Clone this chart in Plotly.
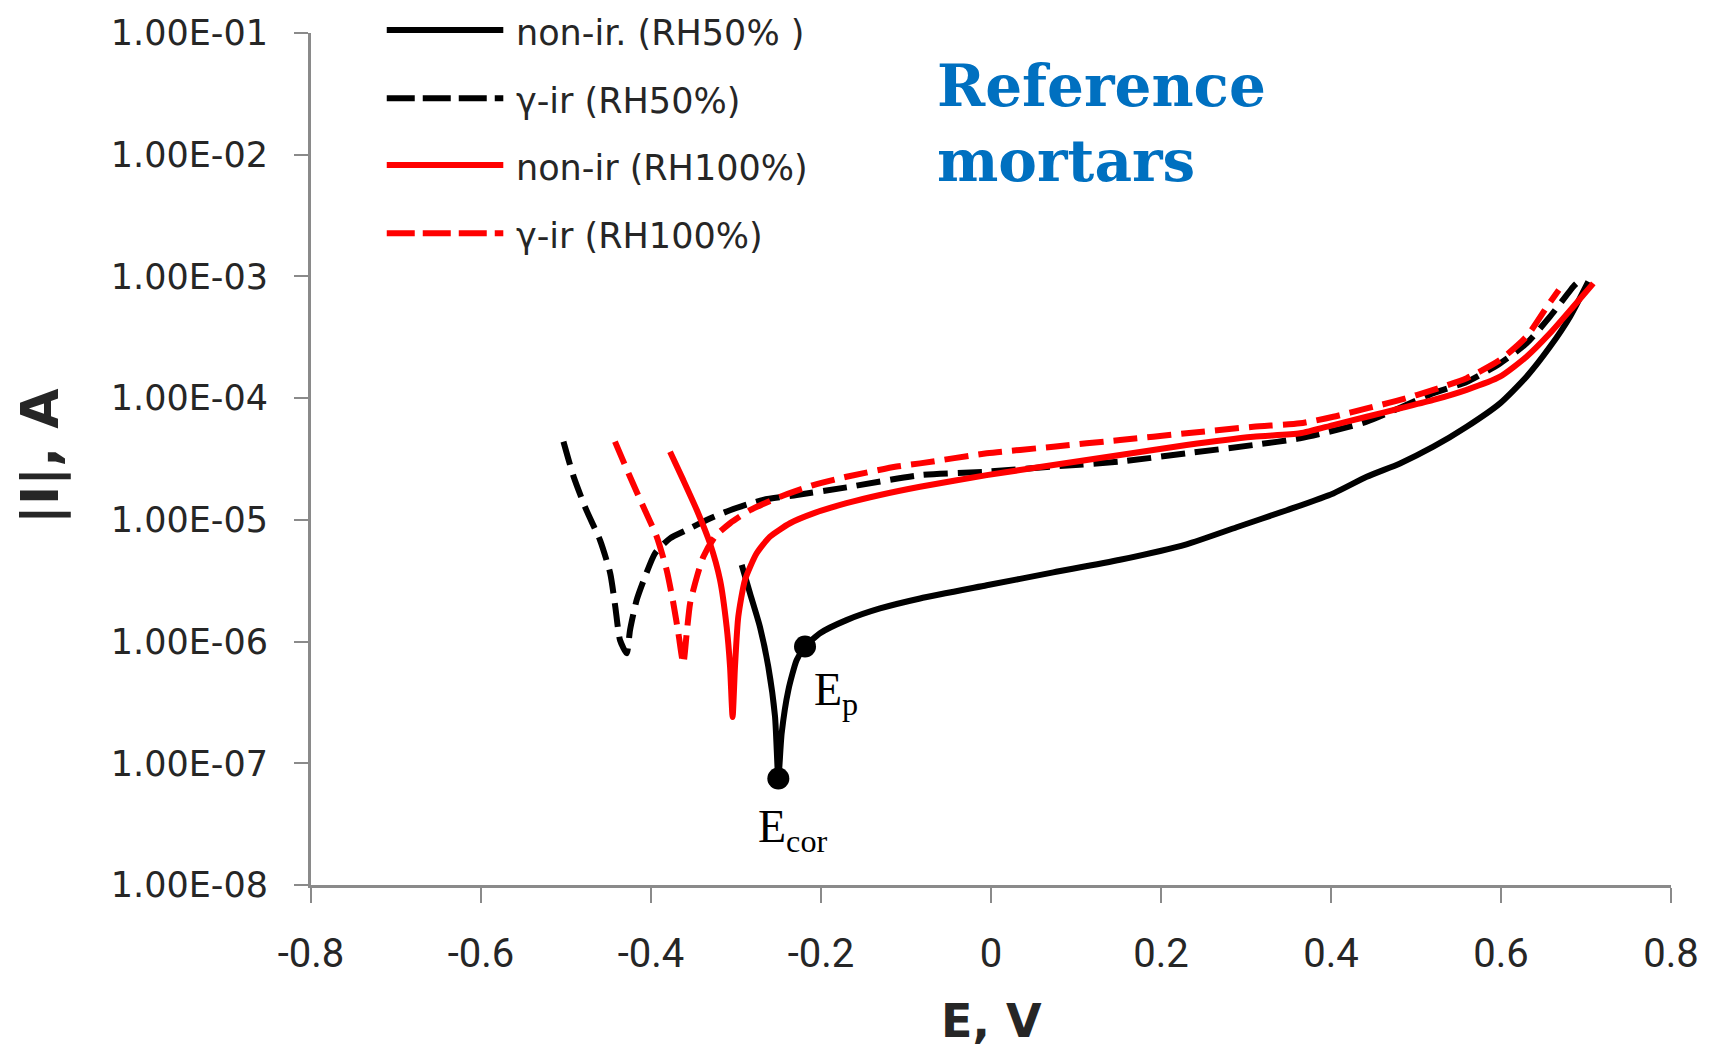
import plotly.graph_objects as go

# ---- data (E in V, |I| in A) ----
E_nonir_50 = [-0.2933, -0.2835, -0.2718, -0.262, -0.2541, -0.2502, -0.2463, -0.2384, -0.2286,
              -0.2188, -0.2012, -0.170, -0.1306, -0.0835, -0.005, 0.0733, 0.1518, 0.230, 0.289,
              0.348, 0.4027, 0.442, 0.4812, 0.5204, 0.5596, 0.5988, 0.630, 0.6576, 0.6812, 0.7027]
I_nonir_50 = [4.26e-6, 2.49e-6, 1.32e-6, 6.21e-7, 2.42e-7, 7.5e-8, 1.76e-7, 4.0e-7, 7.05e-7,
              9.08e-7, 1.17e-6, 1.50e-6, 1.87e-6, 2.26e-6, 2.9e-6, 3.7e-6, 4.7e-6, 6.3e-6, 8.7e-6,
              1.20e-5, 1.65e-5, 2.26e-5, 2.91e-5, 3.99e-5, 5.82e-5, 9.06e-5, 1.50e-4, 2.64e-4, 4.67e-4, 9.06e-4]

E_gir_50 = [-0.503, -0.491, -0.476, -0.460, -0.448, -0.442, -0.4365, -0.4286, -0.4247, -0.4169,
            -0.407, -0.3953, -0.3776, -0.358, -0.3345, -0.307, -0.268, -0.2286, -0.170, -0.0835,
            -0.005, 0.0733, 0.1518, 0.230, 0.3086, 0.3635, 0.442, 0.5204, 0.5596, 0.5988, 0.630,
            0.6576, 0.685, 0.690]
I_gir_50 = [4.39e-5, 2.26e-5, 1.20e-5, 6.82e-6, 3.64e-6, 1.93e-6, 1.03e-6, 8.0e-7, 1.24e-6, 2.19e-6,
            3.41e-6, 5.31e-6, 7.05e-6, 8.26e-6, 9.98e-6, 1.20e-5, 1.46e-5, 1.60e-5, 1.85e-5, 2.33e-5,
            2.49e-5, 2.74e-5, 3.01e-5, 3.52e-5, 4.12e-5, 4.68e-5, 6.40e-5, 1.10e-4, 1.36e-4, 1.93e-4,
            2.82e-4, 4.67e-4, 8.24e-4, 8.9e-4]

E_nonir_100 = [-0.3776, -0.362, -0.346, -0.3306, -0.3188, -0.311, -0.307, -0.304, -0.3012, -0.2973,
               -0.2894, -0.2757, -0.26, -0.2365, -0.209, -0.170, -0.1306, -0.0835, -0.005, 0.0733,
               0.1518, 0.230, 0.3086, 0.3635, 0.4027, 0.442, 0.4812, 0.5204, 0.5596, 0.5988, 0.630,
               0.6576, 0.685, 0.7086]
I_nonir_100 = [3.63e-5, 2.12e-5, 1.20e-5, 6.41e-6, 3.21e-6, 1.32e-6, 6.21e-7, 2.4e-7, 6.21e-7, 1.60e-6,
               3.21e-6, 5.31e-6, 7.28e-6, 9.38e-6, 1.13e-5, 1.37e-5, 1.60e-5, 1.87e-5, 2.33e-5, 2.82e-5,
               3.41e-5, 4.12e-5, 4.82e-5, 5.14e-5, 6.01e-5, 7.03e-5, 8.24e-5, 9.66e-5, 1.17e-4, 1.50e-4,
               2.19e-4, 3.41e-4, 5.64e-4, 8.77e-4]

E_gir_100 = [-0.4424, -0.4247, -0.409, -0.3933, -0.3816, -0.3737, -0.3678, -0.362, -0.358, -0.354,
             -0.346, -0.3384, -0.3247, -0.307, -0.2835, -0.248, -0.209, -0.170, -0.111, -0.0835,
             -0.005, 0.0733, 0.1518, 0.230, 0.3086, 0.3635, 0.4027, 0.442, 0.4812, 0.5204, 0.5596,
             0.5988, 0.630, 0.6541, 0.668]
I_gir_100 = [4.39e-5, 2.26e-5, 1.28e-5, 7.28e-6, 3.87e-6, 2.06e-6, 1.17e-6, 6.6e-7, 1.17e-6, 2.06e-6,
             3.41e-6, 4.98e-6, 7.28e-6, 9.38e-6, 1.20e-5, 1.55e-5, 1.93e-5, 2.26e-5, 2.74e-5, 2.91e-5,
             3.52e-5, 3.99e-5, 4.53e-5, 5.14e-5, 5.82e-5, 6.21e-5, 7.03e-5, 8.24e-5, 9.66e-5, 1.17e-4,
             1.46e-4, 2.06e-4, 3.20e-4, 5.64e-4, 7.73e-4]

# marked points (E_cor and E_p on the non-ir. RH50% curve)
point_E = [-0.2502, -0.2188]
point_I = [7.5e-8, 9.1e-7]
point_labels = ["E<sub>cor</sub>", "E<sub>p</sub>"]

series_names = ["non-ir. (RH50% )", "γ-ir (RH50%)", "non-ir (RH100%)", "γ-ir (RH100%)"]
series_colors = ["#000000", "#000000", "#FF0000", "#FF0000"]
series_dash = ["solid", "24px,10px", "solid", "24px,10px"]
legend_dash = ["solid", "28px,8px", "solid", "28px,8px"]

x_ticks = [-0.8, -0.6, -0.4, -0.2, 0, 0.2, 0.4, 0.6, 0.8]
y_tickvals = [1e-1, 1e-2, 1e-3, 1e-4, 1e-5, 1e-6, 1e-7, 1e-8]
y_ticktext = ["1.00E-01", "1.00E-02", "1.00E-03", "1.00E-04",
              "1.00E-05", "1.00E-06", "1.00E-07", "1.00E-08"]

xs = [E_nonir_50, E_gir_50, E_nonir_100, E_gir_100]
ys = [I_nonir_50, I_gir_50, I_nonir_100, I_gir_100]

fig = go.Figure()
for x, y, name, c, d in zip(xs, ys, series_names, series_colors, series_dash):
    fig.add_trace(go.Scatter(x=x, y=y, mode="lines", name=name,
                             line=dict(color=c, width=6, dash=d, shape="spline", smoothing=0.6),
                             showlegend=False))

fig.add_trace(go.Scatter(x=point_E, y=point_I, mode="markers",
                         marker=dict(color="black", size=22), showlegend=False))

# ---- manual legend (long line samples like the original) ----
legend_rows_y = [1.0035, 0.9234, 0.8451, 0.7649]
shapes = []
annotations = []
for ry, name, c, d in zip(legend_rows_y, series_names, series_colors, legend_dash):
    shapes.append(dict(type="line", xref="paper", yref="paper", x0=0.0557, x1=0.1414,
                       y0=ry, y1=ry, line=dict(color=c, width=6, dash=d)))
    annotations.append(dict(xref="paper", yref="paper", x=0.149, y=ry - 0.003,
                            xanchor="left", yanchor="middle", showarrow=False, text=name,
                            font=dict(family="DejaVu Sans", size=35, color="#262626")))

# title text block
annotations.append(dict(xref="paper", yref="paper", x=0.4585, y=0.8932, xanchor="left",
                        yanchor="middle", showarrow=False, align="left",
                        text="<b>Reference<br>mortars</b>",
                        font=dict(family="DejaVu Serif", size=58, color="#0070C0")))

# point labels
annotations.append(dict(xref="paper", yref="paper", x=0.3272, y=0.0646, xanchor="left",
                        yanchor="middle", showarrow=False, text=point_labels[0],
                        font=dict(family="Liberation Serif", size=46, color="black")))
annotations.append(dict(xref="paper", yref="paper", x=0.3682, y=0.2254, xanchor="left",
                        yanchor="middle", showarrow=False, text=point_labels[1],
                        font=dict(family="Liberation Serif", size=46, color="black")))

# axis titles
annotations.append(dict(xref="paper", yref="paper", x=0.5, y=-0.1596, xanchor="center",
                        yanchor="middle", showarrow=False, text="<b>E, V</b>",
                        font=dict(family="DejaVu Sans", size=46, color="#262626")))
annotations.append(dict(xref="paper", yref="paper", x=-0.1993, y=0.5035, xanchor="center",
                        yanchor="middle", showarrow=False, text="<b>|I|, A</b>", textangle=-90,
                        font=dict(family="DejaVu Sans", size=52, color="#262626")))

fig.update_layout(
    width=1717, height=1050,
    margin=dict(l=311, r=46, t=33, b=165),
    paper_bgcolor="white", plot_bgcolor="white",
    shapes=shapes, annotations=annotations,
    xaxis=dict(range=[-0.8, 0.8], tickvals=x_ticks, ticktext=[f"{v:g}" for v in x_ticks],
               showgrid=False, zeroline=False, showline=True, linecolor="#8A8A8A", linewidth=3,
               ticks="outside", ticklen=15, tickwidth=2, tickcolor="#8A8A8A",
               ticklabelstandoff=16,
               tickfont=dict(family="Liberation Sans Narrow, Roboto, sans-serif", size=40,
                             color="#262626")),
    yaxis=dict(type="log", range=[-8, -1], tickvals=y_tickvals, ticktext=y_ticktext,
               showgrid=False, zeroline=False, showline=True, linecolor="#8A8A8A", linewidth=3,
               ticks="outside", ticklen=14, tickwidth=2, tickcolor="#8A8A8A",
               ticklabelstandoff=19,
               tickfont=dict(family="DejaVu Sans", size=35, color="#262626")),
)

fig.write_html("out.html")
